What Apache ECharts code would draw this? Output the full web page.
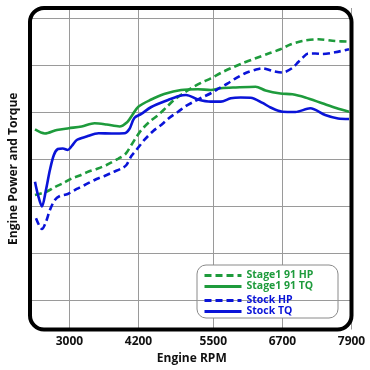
<!DOCTYPE html>
<html>
<head>
<meta charset="utf-8">
<script src="https://cdn.jsdelivr.net/npm/echarts@6/dist/echarts.min.js"></script>
<style>html,body{margin:0;padding:0;background:#fff}#c{width:370px;height:370px}</style>
</head>
<body>
<div id="c"></div>
<script>
// X axis tick labels (Engine RPM) and horizontal grid values
const xTicks = [3000, 4200, 5500, 6700, 7900];
const yGrid = [50, 100, 150, 200, 250, 300, 350];

// Stage1 91 HP (green dashed)
const stage1HpRpm = [2402, 2609, 2747, 2885, 3041, 3179, 3334, 3472, 3645, 3852, 3973, 4076, 4163, 4249, 4387, 4542, 4681, 4819, 4974, 5112, 5285, 5457, 5630, 5803, 5975, 6234, 6459, 6666, 6838, 7045, 7322, 7615, 7857];
const stage1HpVal = [161.7, 165.4, 170.2, 174.1, 179.3, 182.4, 186.7, 189.4, 193.6, 200.5, 205.3, 214.9, 223.4, 230.8, 239.4, 246.8, 254.8, 262.8, 269.7, 275.2, 280.9, 285.8, 291.5, 296.5, 301.1, 307.1, 312.2, 316.7, 321.8, 325.5, 327.3, 325.5, 324.8];

// Stage1 91 TQ (green solid)
const stage1TqRpm = [2402, 2574, 2782, 2989, 3213, 3437, 3645, 3869, 4007, 4093, 4197, 4422, 4646, 4939, 5233, 5457, 5630, 5889, 6234, 6407, 6666, 6873, 7097, 7391, 7633, 7857];
const stage1TqVal = [231.4, 227.1, 230.8, 232.7, 234.6, 238.0, 236.7, 234.6, 239.4, 246.8, 255.6, 263.3, 269.1, 273.4, 274.1, 273.4, 275.2, 276.1, 276.9, 272.9, 269.7, 268.8, 265.4, 259.3, 254.3, 250.3];

// Stock HP (blue dashed)
const stockHpRpm = [2419, 2471, 2523, 2592, 2661, 2747, 2833, 2971, 3127, 3265, 3472, 3610, 3766, 3904, 3990, 4076, 4163, 4301, 4456, 4594, 4732, 4888, 5026, 5164, 5285, 5457, 5595, 5751, 5889, 6062, 6234, 6355, 6528, 6700, 6873, 6976, 7045, 7149, 7270, 7391, 7615, 7857];
const stockHpVal = [136.9, 129.8, 125.5, 133.0, 145.7, 156.4, 160.6, 162.8, 168.1, 172.3, 178.7, 181.9, 186.2, 189.9, 193.6, 203.2, 209.6, 220.2, 229.8, 236.2, 243.6, 250.3, 256.4, 261.0, 264.9, 269.9, 275.0, 280.5, 285.8, 291.5, 295.0, 296.5, 293.6, 292.0, 296.8, 303.2, 307.4, 312.2, 312.2, 311.7, 313.5, 316.8];

// Stock TQ (blue solid)
const stockTqRpm = [2402, 2454, 2523, 2592, 2661, 2730, 2799, 2885, 2971, 3041, 3127, 3299, 3507, 3731, 3955, 4042, 4128, 4249, 4422, 4715, 4905, 5026, 5233, 5457, 5630, 5803, 5975, 6148, 6355, 6493, 6700, 6925, 7184, 7443, 7667, 7857];
const stockTqVal = [175.8, 161.7, 149.5, 167.0, 188.3, 204.3, 210.6, 211.2, 209.6, 213.8, 220.2, 223.9, 227.3, 227.1, 227.3, 231.9, 243.6, 247.9, 255.3, 262.8, 267.0, 268.1, 263.3, 261.0, 261.0, 264.6, 265.4, 265.2, 259.6, 254.8, 250.3, 250.0, 253.9, 246.8, 243.1, 242.6];

const GREEN = '#1e9b3c';
const BLUE = '#0a14d8';
const FONT = '"Open Sans", "DejaVu Sans", sans-serif';

function pairs(xs, ys) { return xs.map((x, i) => [x, ys[i]]); }

function mkSeries(name, xs, ys, color, dashed) {
  return {
    name: name,
    type: 'line',
    smooth: 0.3,
    symbol: 'none',
    showSymbol: false,
    data: pairs(xs, ys),
    lineStyle: { color: color, width: 2.6, type: dashed ? [7, 4] : 'solid' },
    itemStyle: { color: color },
    z: 3
  };
}

const chart = echarts.init(document.getElementById('c'), null, { renderer: 'canvas' });

const legendCommon = {
  orient: 'vertical', left: 203, padding: 0, itemGap: 0,
  itemWidth: 37, itemHeight: 8,
  itemStyle: { opacity: 0 },
  lineStyle: { width: 3 }
};

const option = {
  animation: false,
  backgroundColor: '#fff',
  grid: { left: 30, top: 8, right: 18.5, bottom: 40.5 },
  xAxis: {
    type: 'value',
    min: 2350,
    max: 7900,
    name: 'Engine RPM',
    nameLocation: 'middle',
    nameGap: 21,
    nameTextStyle: { fontFamily: FONT, fontWeight: 'bold', fontSize: 12, color: '#111' },
    axisLine: { show: false },
    axisTick: { show: false, customValues: xTicks },
    axisLabel: { customValues: xTicks, formatter: v => String(v), fontFamily: FONT, fontWeight: 'bold', fontSize: 12, color: '#111', margin: 6 },
    splitLine: { show: true, lineStyle: { color: '#9a9a9a', width: 1 } }
  },
  yAxis: {
    type: 'value',
    min: 18.6,
    max: 360.6,
    name: 'Engine Power and Torque',
    nameLocation: 'middle',
    nameRotate: 90,
    nameGap: 12,
    nameTextStyle: { fontFamily: FONT, fontWeight: 'bold', fontSize: 12, color: '#111' },
    axisLine: { show: false },
    axisTick: { show: false, customValues: yGrid },
    axisLabel: { show: false, customValues: yGrid },
    splitLine: { show: true, lineStyle: { color: '#9a9a9a', width: 1 } }
  },
  legend: [
    Object.assign({}, legendCommon, {
      top: 270,
      textStyle: { fontFamily: FONT, fontWeight: 'bold', fontSize: 10.5, lineHeight: 11 },
      data: [
        { name: 'Stage1 91 HP', textStyle: { color: GREEN } },
        { name: 'Stage1 91 TQ', textStyle: { color: GREEN } }
      ]
    }),
    Object.assign({}, legendCommon, {
      top: 295,
      textStyle: { fontFamily: FONT, fontWeight: 'bold', fontSize: 10.5, lineHeight: 10.5 },
      data: [
        { name: 'Stock HP', textStyle: { color: BLUE } },
        { name: 'Stock TQ', textStyle: { color: BLUE } }
      ]
    })
  ],
  series: [
    mkSeries('Stage1 91 HP', stage1HpRpm, stage1HpVal, GREEN, true),
    mkSeries('Stage1 91 TQ', stage1TqRpm, stage1TqVal, GREEN, false),
    mkSeries('Stock HP', stockHpRpm, stockHpVal, BLUE, true),
    mkSeries('Stock TQ', stockTqRpm, stockTqVal, BLUE, false)
  ],
  graphic: [
    { id: 'legendBox', type: 'rect', z: 1, shape: { x: 197, y: 265, width: 141, height: 53, r: 9 },
      style: { fill: '#fff', stroke: '#8a8a8a', lineWidth: 1 } },
    { id: 'frame', type: 'rect', z: 10, shape: { x: 30, y: 8, width: 321.5, height: 321.5, r: 14 },
      style: { fill: 'none', stroke: '#000', lineWidth: 4 } }
  ]
};
chart.setOption(option);

// grid line at the lowest gridline value continues across the legend box
const yPix = chart.convertToPixel({ gridIndex: 0 }, [2350, yGrid[0]])[1];
chart.setOption({
  graphic: [
    { id: 'legendBox' }, { id: 'frame' },
    { id: 'gl', type: 'line', z: 2, shape: { x1: 197, y1: Math.round(yPix) + 0.5, x2: 338, y2: Math.round(yPix) + 0.5 },
      style: { stroke: '#9a9a9a', lineWidth: 1 } }
  ]
});
</script>
</body>
</html>
